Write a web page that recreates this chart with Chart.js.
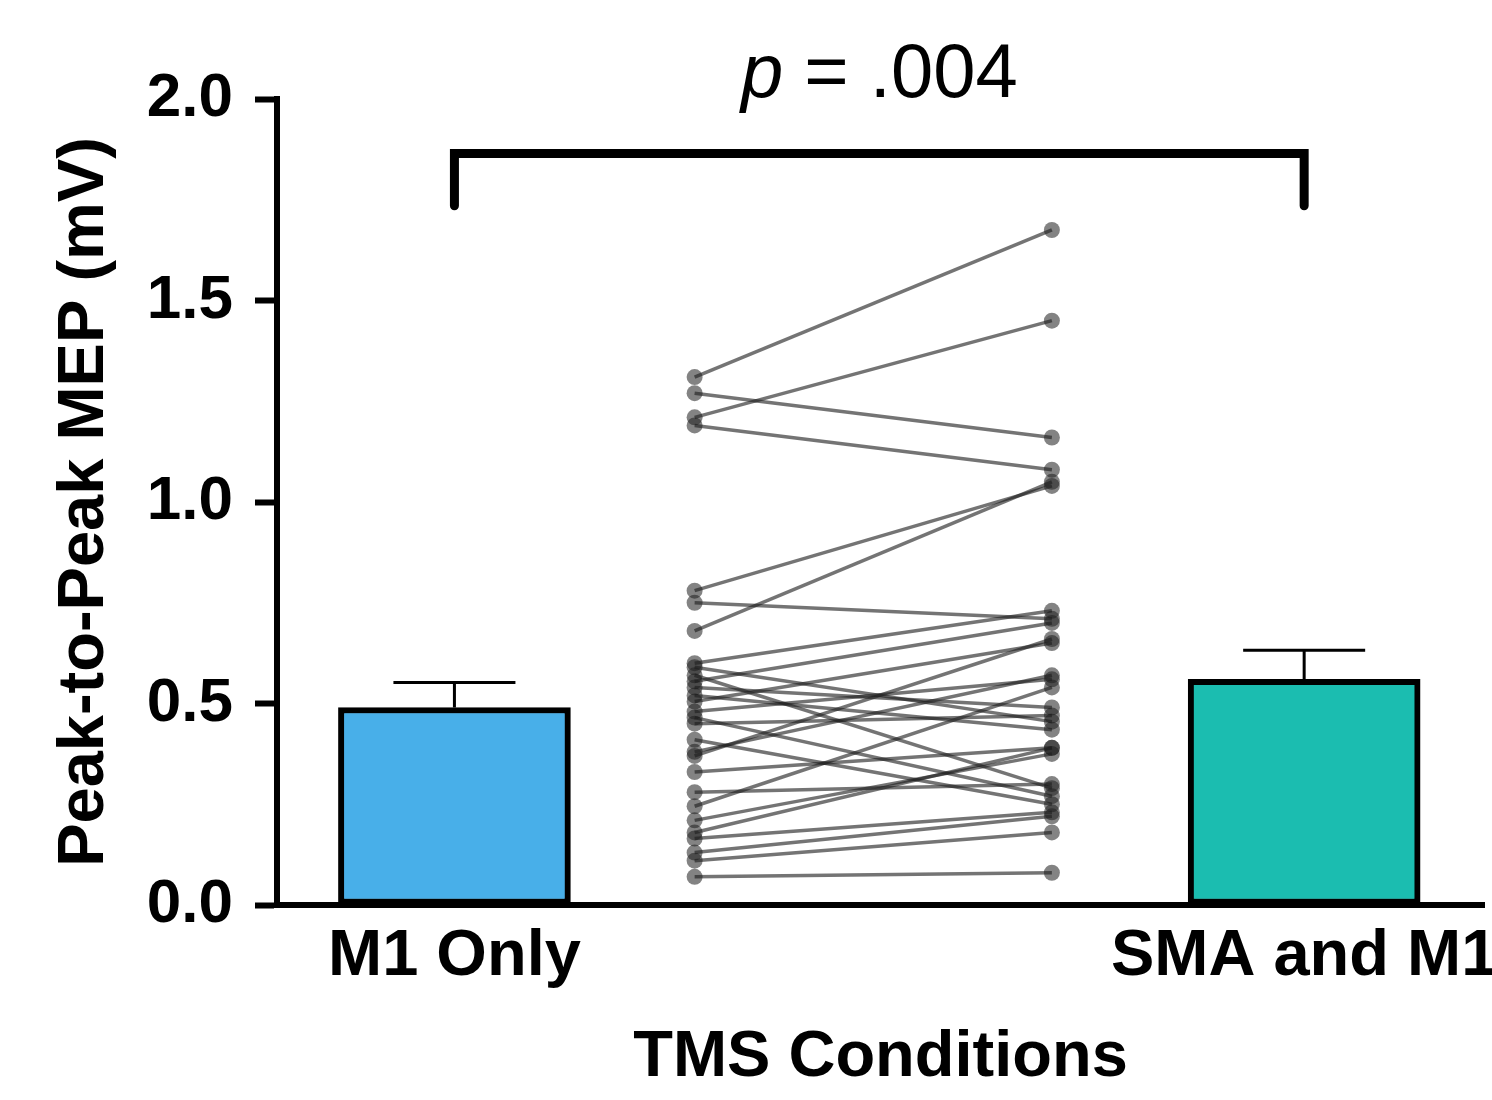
<!DOCTYPE html>
<html>
<head>
<meta charset="utf-8">
<title>Peak-to-Peak MEP by TMS condition</title>
<script src="https://cdn.jsdelivr.net/npm/chart.js@4"></script>
<style>
  body { margin: 0; background: #fff; }
</style>
</head>
<body>
<canvas id="chart" width="1492" height="1100"></canvas>
<script>
// group means and SEM (bars)
const conditions = ['M1 Only', 'SMA and M1'];
const meanMEP = [0.49, 0.56];
const semMEP = [0.062, 0.072];

// one entry per participant, same index = same person
const m1Only = [1.31, 1.27, 1.21, 1.19, 0.78, 0.75, 0.68, 0.60, 0.59, 0.57, 0.555, 0.54, 0.52, 0.505, 0.48,
    0.465, 0.45, 0.41, 0.38, 0.37, 0.33, 0.28, 0.245, 0.21, 0.18, 0.165, 0.13, 0.11, 0.07];
const smaAndM1 = [1.675, 1.16, 1.45, 1.08, 1.04, 0.71, 1.05, 0.73, 0.455, 0.29, 0.70, 0.49, 0.435, 0.65, 0.56,
    0.27, 0.47, 0.25, 0.57, 0.66, 0.39, 0.30, 0.54, 0.375, 0.39, 0.23, 0.22, 0.18, 0.08];

const yTicks = [0, 0.5, 1.0, 1.5, 2.0];
const pValueText = '= .004';

// layout on the (hidden) linear x scale 0..10
const barX = [1.47, 8.51];
const pairX = [3.46, 6.42];
const bracketTop = 1.865;
const bracketDrop = 1.735;

const FONT = '"Liberation Sans", Arial, Helvetica, sans-serif';

// error bars (upper only), significance bracket and p value
const extras = {
    id: 'extras',
    beforeDatasetsDraw(chart) {
        const {ctx, scales: {x, y}} = chart;
        ctx.save();
        ctx.strokeStyle = '#000';
        ctx.lineWidth = 3;
        meanMEP.forEach((m, i) => {
            const px = x.getPixelForValue(barX[i]);
            const top = y.getPixelForValue(m + semMEP[i]);
            ctx.beginPath();
            ctx.moveTo(px, y.getPixelForValue(m));
            ctx.lineTo(px, top);
            ctx.moveTo(px - 61, top);
            ctx.lineTo(px + 61, top);
            ctx.stroke();
        });
        ctx.restore();
    },
    afterDraw(chart) {
        const {ctx, scales: {x, y}} = chart;
        const x1 = x.getPixelForValue(barX[0]);
        const x2 = x.getPixelForValue(barX[1]);
        const yt = y.getPixelForValue(bracketTop);
        const yd = y.getPixelForValue(bracketDrop);
        ctx.save();
        ctx.strokeStyle = '#000';
        ctx.lineWidth = 9;
        ctx.lineCap = 'round';
        ctx.beginPath();
        ctx.moveTo(x1, yd);
        ctx.lineTo(x1, yt);
        ctx.lineTo(x2, yt);
        ctx.lineTo(x2, yd);
        ctx.stroke();

        // "p = .004" with italic p
        const italic = 'italic 76px ' + FONT;
        const normal = '76px ' + FONT;
        ctx.font = italic;
        const wp = ctx.measureText('p').width;
        ctx.font = normal;
        const rest = ' ' + pValueText;
        const wr = ctx.measureText(rest).width;
        let sx = (x1 + x2) / 2 - (wp + wr) / 2;
        const base = y.getPixelForValue(2.0) - 2;
        ctx.fillStyle = '#000';
        ctx.textBaseline = 'alphabetic';
        ctx.textAlign = 'left';
        ctx.font = italic;
        ctx.fillText('p', sx, base);
        ctx.font = normal;
        ctx.fillText(rest, sx + wp, base);
        ctx.restore();
    }
};

const pairDatasets = m1Only.map((v, i) => ({
    type: 'line',
    data: [{x: pairX[0], y: v}, {x: pairX[1], y: smaAndM1[i]}],
    borderColor: 'rgba(30,30,30,0.62)',
    borderWidth: 3.5,
    pointRadius: 8,
    pointBackgroundColor: 'rgba(30,30,30,0.55)',
    pointBorderWidth: 0,
    tension: 0
}));

const ctx = document.getElementById('chart').getContext('2d');
const myChart = new Chart(ctx, {
    type: 'bar',
    data: {
        datasets: [{
            data: meanMEP.map((m, i) => ({x: barX[i], y: m})),
            backgroundColor: ['#48AFE9', '#1BBDB0'],
            borderColor: '#000',
            borderWidth: 6,
            borderSkipped: false,
            barThickness: 232
        }, ...pairDatasets]
    },
    options: {
        responsive: false,
        animation: false,
        layout: {padding: {top: 99, right: 7, left: 0, bottom: 0}},
        plugins: {legend: {display: false}, tooltip: {enabled: false}},
        scales: {
            x: {
                type: 'linear',
                min: 0,
                max: 10,
                offset: false,
                bounds: 'data',
                grid: {display: false, drawTicks: false, offset: false},
                border: {display: true, color: '#000', width: 6},
                afterBuildTicks: scale => { scale.ticks = barX.map(v => ({value: v})); },
                afterFit: scale => {
                    scale.height = 195;
                    // let the last label run to the canvas edge instead of shrinking the plot
                    scale.paddingLeft = 0;
                    scale.paddingRight = 0;
                },
                ticks: {
                    autoSkip: false,
                    maxRotation: 0,
                    padding: 13,
                    color: '#000',
                    font: {family: FONT, size: 65, weight: 'bold'},
                    callback: (value, index) => conditions[index]
                },
                title: {
                    display: true,
                    text: 'TMS Conditions',
                    color: '#000',
                    padding: {top: 0, bottom: 3},
                    font: {family: FONT, size: 65, weight: 'bold'}
                }
            },
            y: {
                min: 0,
                max: 2,
                afterBuildTicks: scale => { scale.ticks = yTicks.map(v => ({value: v})); },
                afterFit: scale => { scale.width = 277; },
                grid: {drawOnChartArea: false, drawTicks: true, tickLength: 22, tickWidth: 6, tickColor: '#000'},
                border: {display: true, color: '#000', width: 6},
                ticks: {
                    padding: 22,
                    color: '#000',
                    font: {family: FONT, size: 62, weight: 'bold'},
                    callback: v => v.toFixed(1)
                },
                title: {
                    display: true,
                    text: 'Peak-to-Peak MEP (mV)',
                    color: '#000',
                    padding: {top: 46, bottom: 0},
                    font: {family: FONT, size: 65, weight: 'bold'}
                }
            }
        }
    },
    plugins: [extras]
});
</script>
</body>
</html>
